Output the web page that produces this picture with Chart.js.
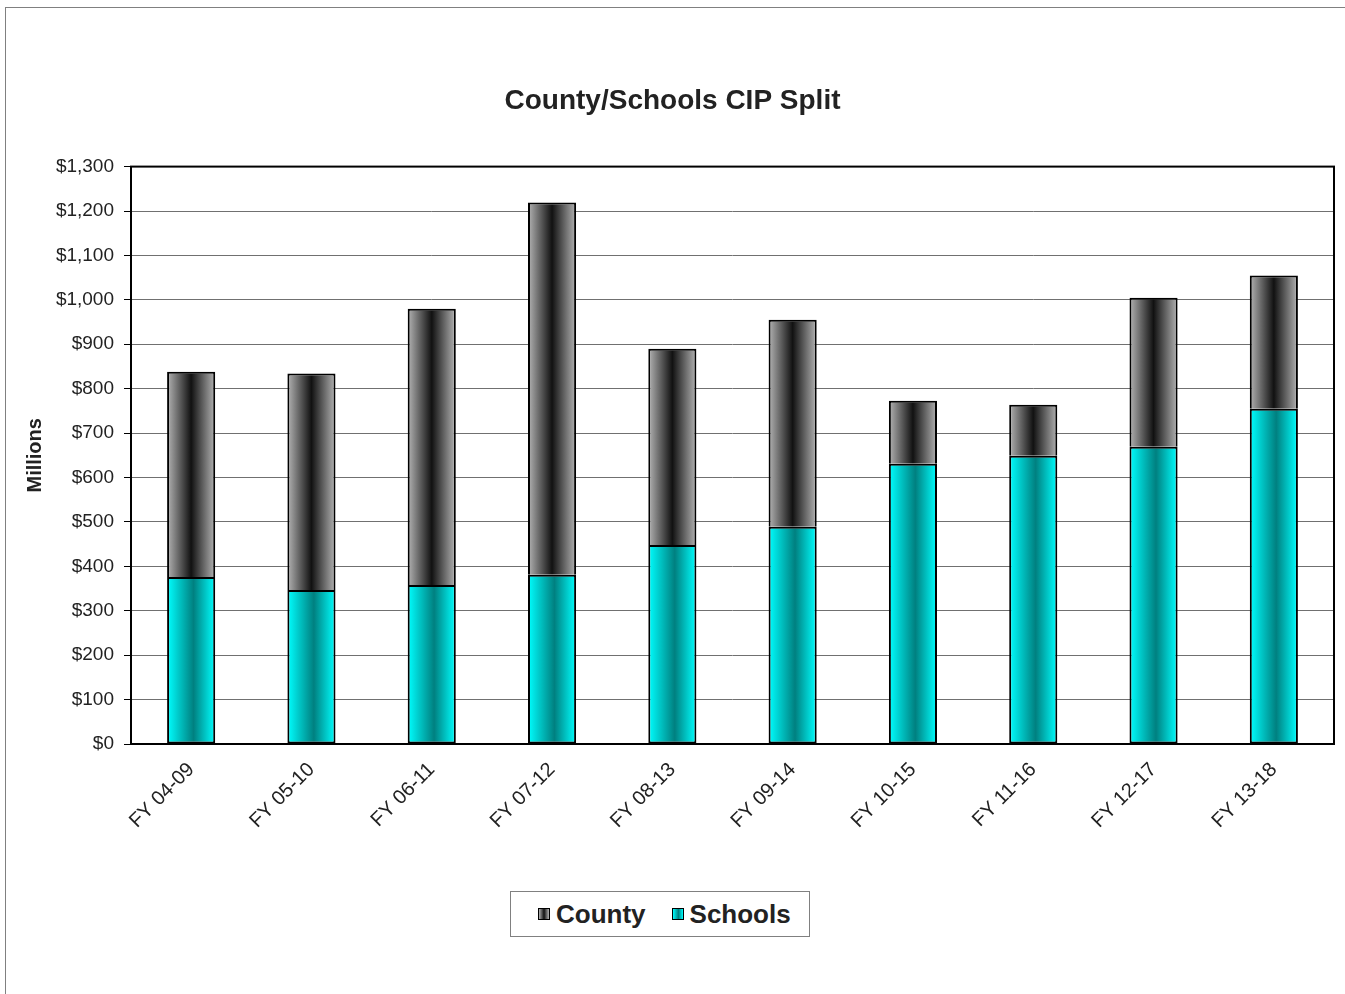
<!DOCTYPE html>
<html>
<head>
<meta charset="utf-8">
<script src="https://cdn.jsdelivr.net/npm/chart.js@4"></script>
<style>
  html, body { margin: 0; padding: 0; background: #fff; }
  body { width: 1345px; height: 994px; position: relative; overflow: hidden; font-family: "Liberation Sans", Arial, sans-serif; }
  .frame { position: absolute; left: 5px; top: 7px; width: 1400px; height: 1100px; border-left: 1px solid #808080; border-top: 1px solid #808080; }
  #wrap { position: absolute; left: 0; top: 0; width: 1345px; height: 994px; }
  .legend { position: absolute; left: 510px; top: 891px; width: 271px; height: 44px; padding-left: 27px; border: 1px solid #808080; background: #fff;
            display: flex; align-items: center; justify-content: flex-start; gap: 26px; font-weight: bold; font-size: 26px; color: #222; }
  .legend span { display: flex; align-items: center; }
  .legend i { display: inline-block; width: 10px; height: 10px; border: 1.5px solid #000; margin-right: 6px; }
  .county-box { background: linear-gradient(to right, #b4b4b4, #111 50%, #b4b4b4); }
  .schools-box { background: linear-gradient(to right, #00ffff, #008080 55%, #00ffff); }
</style>
</head>
<body>
<div class="frame"></div>
<div id="wrap"><canvas id="cipChart" width="1345" height="994"></canvas></div>
<div class="legend">
  <span><i class="county-box"></i>County</span>
  <span><i class="schools-box"></i>Schools</span>
</div>
<script>
// Données (millions)
const categories = ['FY 04-09', 'FY 05-10', 'FY 06-11', 'FY 07-12', 'FY 08-13', 'FY 09-14', 'FY 10-15', 'FY 11-16', 'FY 12-17', 'FY 13-18'];
const schools = [376, 347, 358, 381, 448, 489, 631, 649, 669, 755];
const county = [462, 487, 622, 838, 442, 466, 142, 115, 336, 300];
const yTicks = [0, 100, 200, 300, 400, 500, 600, 700, 800, 900, 1000, 1100, 1200, 1300];

const BAR_PCT = 0.4;

// dégradé horizontal par barre
function barGradient(c, edge, mid, stop) {
    const chart = c.chart;
    const xs = chart.scales.x;
    if (!chart.chartArea || !xs || xs.width === 0) return edge;
    const cx = xs.getPixelForValue(c.dataIndex);
    const half = (chart.chartArea.width / categories.length) * BAR_PCT / 2;
    const g = chart.ctx.createLinearGradient(cx - half, 0, cx + half, 0);
    g.addColorStop(0, edge);
    g.addColorStop(stop, mid);
    g.addColorStop(1, edge);
    return g;
}

const plotFrame = {
    id: 'plotFrame',
    afterDatasetsDraw(chart) {
        const { ctx, chartArea: a } = chart;
        ctx.save();
        ctx.strokeStyle = '#000';
        ctx.lineWidth = 2;
        ctx.strokeRect(a.left, a.top, a.right - a.left, a.bottom - a.top);
        ctx.restore();
    }
};

new Chart(document.getElementById('cipChart').getContext('2d'), {
    type: 'bar',
    data: {
        labels: categories,
        datasets: [
            {
                label: 'Schools',
                data: schools,
                backgroundColor: c => barGradient(c, '#00ffff', '#008080', 0.55),
                borderColor: '#000',
                borderWidth: 2,
                borderSkipped: false,
                categoryPercentage: 1,
                barPercentage: BAR_PCT
            },
            {
                label: 'County',
                data: county,
                backgroundColor: c => barGradient(c, '#b4b4b4', '#111111', 0.5),
                borderColor: '#000',
                borderWidth: 2,
                borderSkipped: 'bottom',
                categoryPercentage: 1,
                barPercentage: BAR_PCT
            }
        ]
    },
    options: {
        responsive: false,
        animation: false,
        layout: { padding: { left: 11, right: 11, top: 0, bottom: 0 } },
        plugins: {
            legend: { display: false },
            tooltip: { enabled: false },
            title: {
                display: true,
                text: 'County/Schools CIP Split',
                color: '#222',
                font: { family: 'Liberation Sans', size: 28, weight: 'bold' },
                padding: { top: 84, bottom: 49 }
            }
        },
        scales: {
            x: {
                stacked: true,
                grid: { display: false },
                border: { display: false },
                ticks: {
                    color: '#222',
                    font: { family: 'Liberation Sans', size: 20 },
                    minRotation: 45,
                    maxRotation: 45,
                    padding: 6
                },
                afterFit: s => { s.height = 250; }
            },
            y: {
                stacked: true,
                min: 0,
                max: 1300,
                afterBuildTicks: s => { s.ticks = yTicks.map(v => ({ value: v })); },
                grid: {
                    color: '#707070',
                    borderDash: [1, 1],
                    lineWidth: 1,
                    tickLength: 7,
                    tickColor: '#000',
                    tickBorderDash: []
                },
                border: { display: false },
                ticks: {
                    color: '#222',
                    font: { family: 'Liberation Sans', size: 19 },
                    padding: 10,
                    callback: v => '$' + v.toLocaleString('en-US')
                },
                title: {
                    display: true,
                    text: 'Millions',
                    color: '#222',
                    font: { family: 'Liberation Sans', size: 20, weight: 'bold' },
                    padding: { top: 12, bottom: 0 }
                },
                afterFit: s => { s.width = 120; }
            }
        }
    },
    plugins: [plotFrame]
});
</script>
</body>
</html>
